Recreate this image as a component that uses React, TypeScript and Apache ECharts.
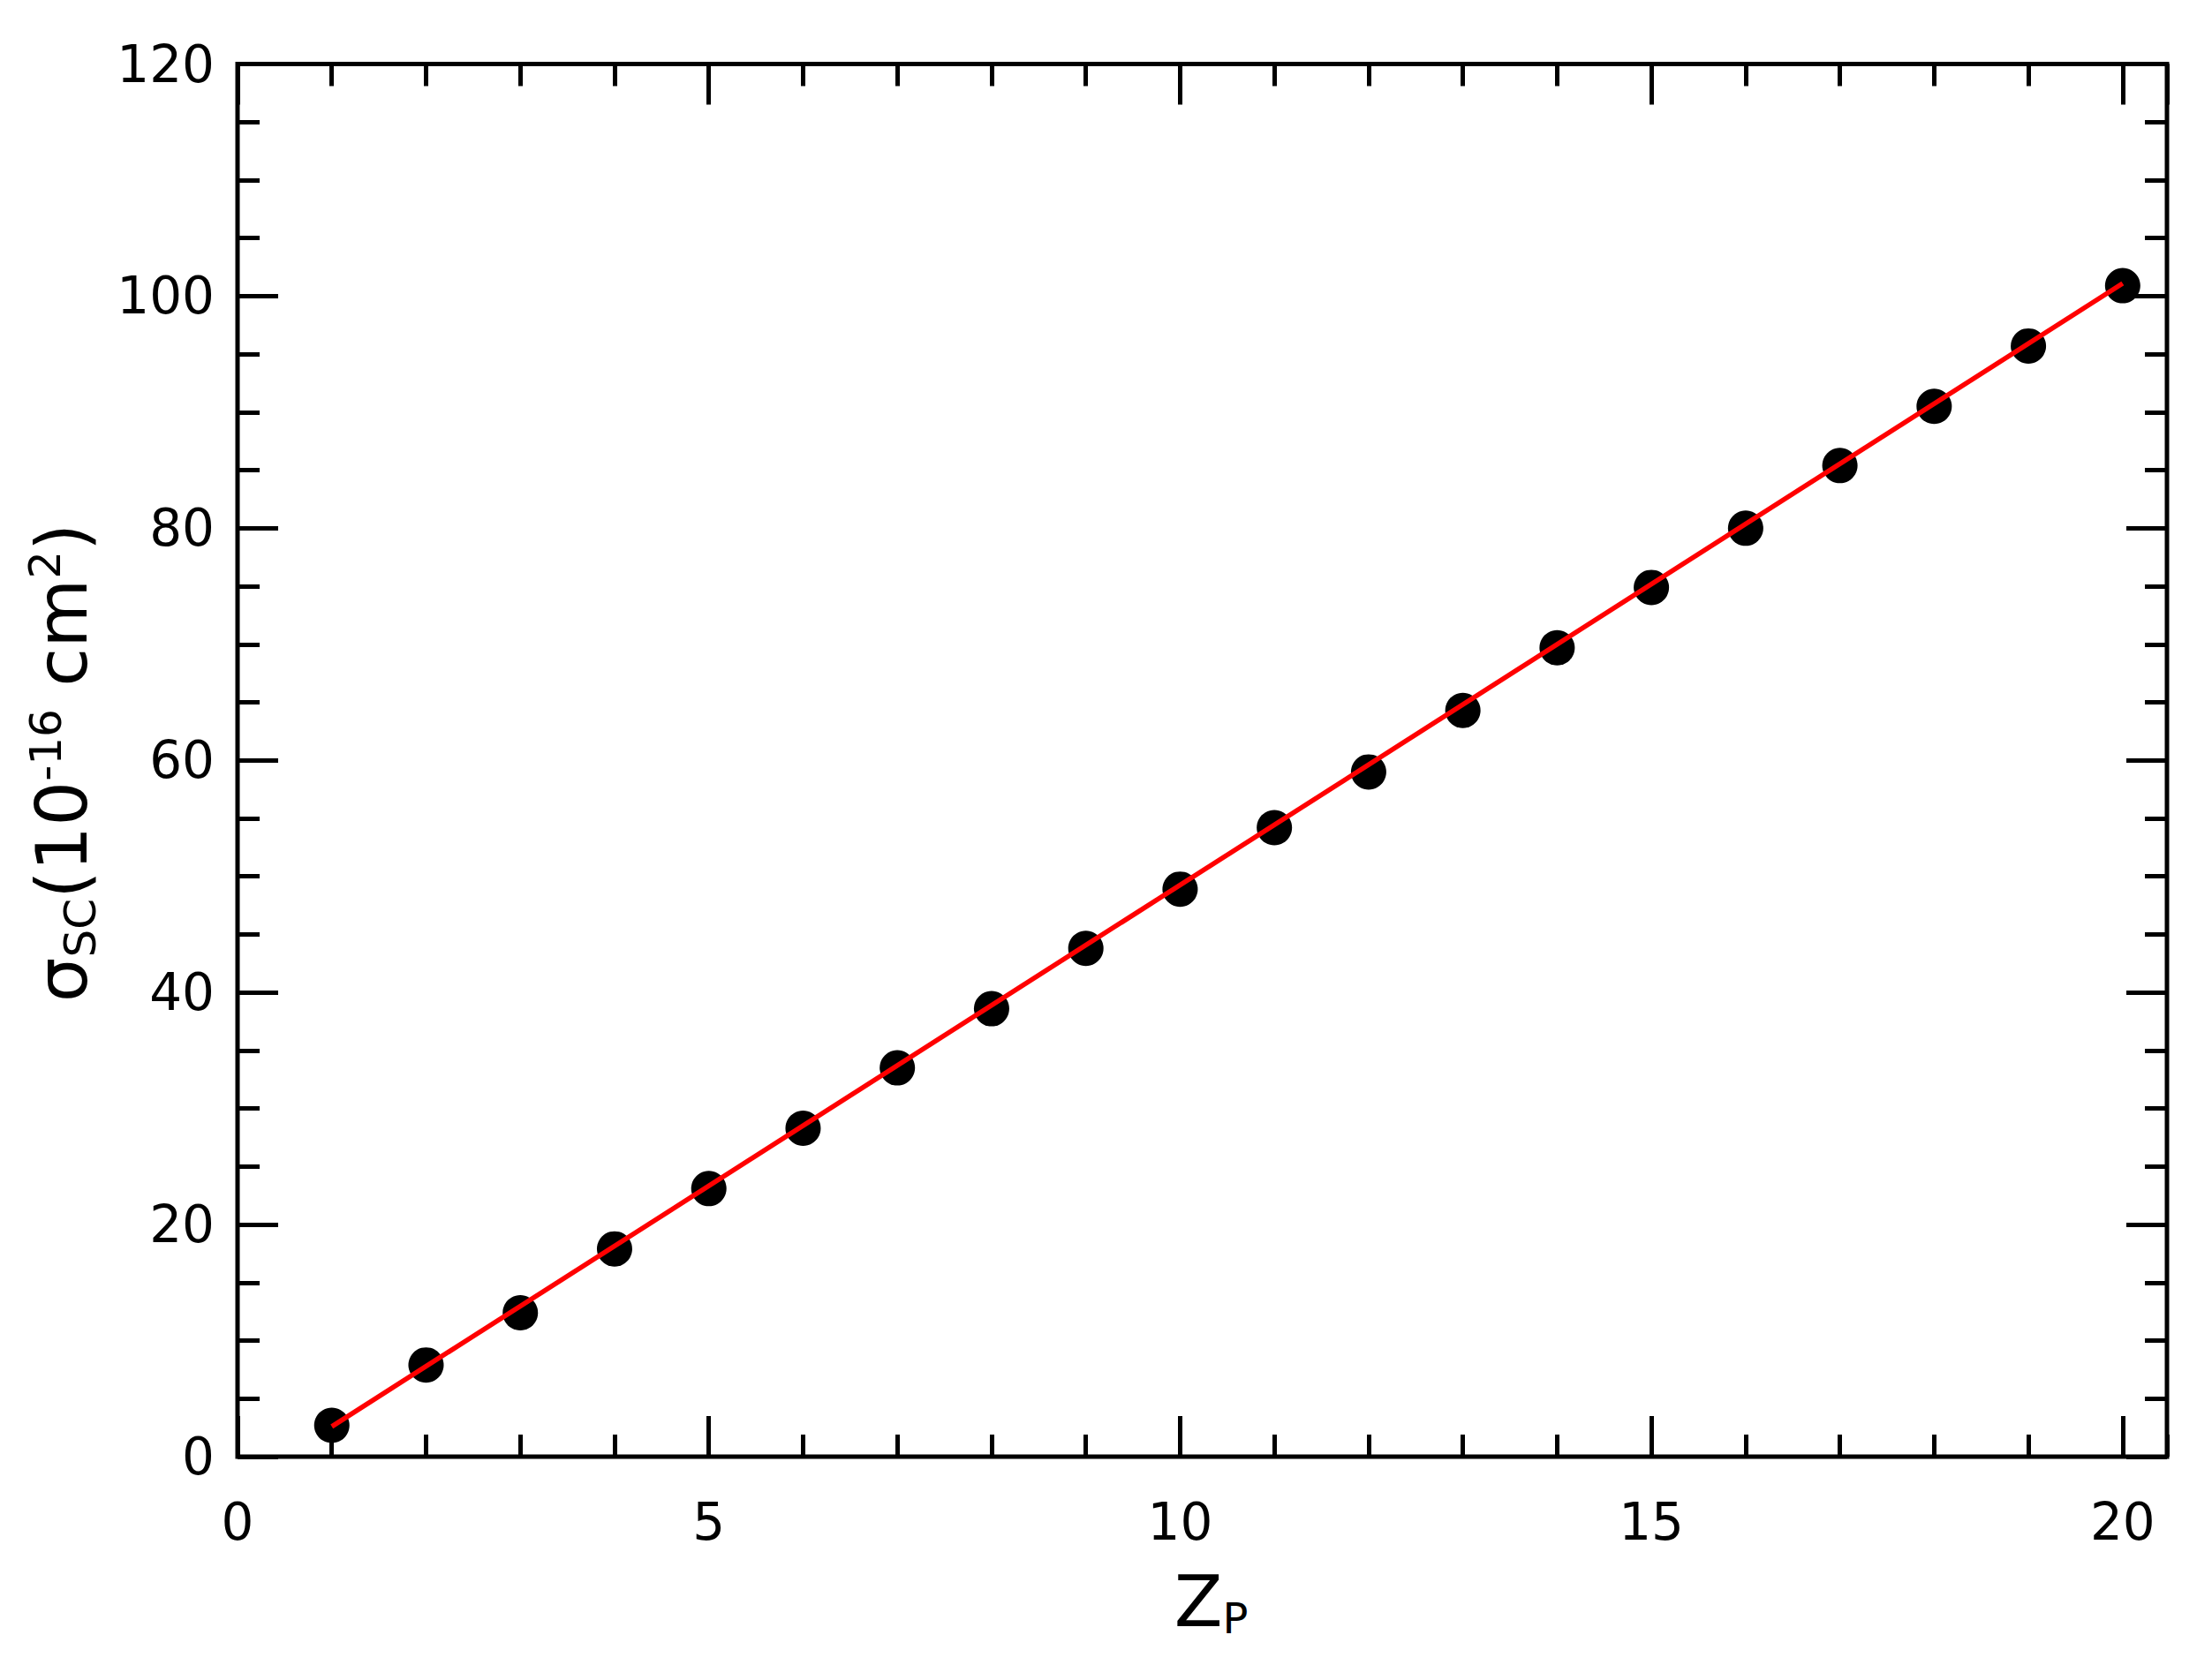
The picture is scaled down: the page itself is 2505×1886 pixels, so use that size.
import React, { useEffect, useRef } from "react";
import * as echarts from "echarts";

// ---- data ----
const zp = [1, 2, 3, 4, 5, 6, 7, 8, 9, 10, 11, 12, 13, 14, 15, 16, 17, 18, 19, 20];
const sigmaSC = [2.7, 7.9, 12.4, 17.9, 23.1, 28.3, 33.5, 38.6, 43.8, 48.9, 54.2, 59.0, 64.3, 69.7, 74.9, 80.0, 85.4, 90.5, 95.7, 100.9];
const fitX = [1, 20];
const fitY = [2.6, 101.1];

const xMin = 0;
const xMax = 20.47;
const xMajor = 5;
const xMinor = 1;
const yMin = 0;
const yMax = 120;
const yMajor = 20;
const yMinor = 5;

const FONT = '"DejaVu Sans", sans-serif';

type Seg = { t: string; size: number; shift: number };

const xTitle: Seg[] = [
  { t: "Z", size: 80, shift: 0 },
  { t: "P", size: 48, shift: 8 },
];
const yTitle: Seg[] = [
  { t: "σ", size: 80, shift: 0 },
  { t: "SC", size: 50, shift: 10 },
  { t: "(10", size: 80, shift: 0 },
  { t: "-16", size: 50, shift: -29 },
  { t: " cm", size: 80, shift: 0 },
  { t: "2", size: 50, shift: -30 },
  { t: ")", size: 80, shift: 0 },
];

function buildSegs(segs: Seg[]) {
  const ctx = document.createElement("canvas").getContext("2d")!;
  let x = 0;
  const children: any[] = [];
  for (const s of segs) {
    ctx.font = `${s.size}px "DejaVu Sans"`;
    const w = ctx.measureText(s.t).width;
    children.push({
      type: "text",
      x,
      y: s.shift - 0.346 * s.size,
      style: {
        text: s.t,
        fontSize: s.size,
        fontFamily: FONT,
        fill: "#000",
        align: "left",
        verticalAlign: "middle",
      },
    });
    x += w;
  }
  return { children, width: x };
}

export default function App() {
  const ref = useRef<HTMLDivElement>(null);
  useEffect(() => {
    document.body.style.margin = "0";
    if (!ref.current) return;
    const chart = echarts.init(ref.current, undefined, { renderer: "svg" });

    const tickStyle = { color: "#000", width: 5 };
    const xAxis = (pos: string, interval: number, len: number, labels: boolean) => ({
      type: "value",
      position: pos,
      min: xMin,
      max: xMax,
      interval,
      axisLine: { show: false, onZero: false },
      splitLine: { show: false },
      axisTick: { show: true, inside: true, length: len, lineStyle: tickStyle },
      axisLabel: {
        show: labels,
        margin: 45,
        fontSize: 58,
        fontFamily: FONT,
        color: "#000",
        showMaxLabel: false,
        formatter: (v: number) => (v % xMajor === 0 ? String(v) : ""),
      },
    });
    const yAxis = (pos: string, interval: number, len: number, labels: boolean) => ({
      type: "value",
      position: pos,
      min: yMin,
      max: yMax,
      interval,
      axisLine: { show: false, onZero: false },
      splitLine: { show: false },
      axisTick: { show: true, inside: true, length: len, lineStyle: tickStyle },
      axisLabel: {
        show: labels,
        margin: 26,
        fontSize: 58,
        fontFamily: FONT,
        color: "#000",
      },
    });

    const xt = buildSegs(xTitle);
    const yt = buildSegs(yTitle);

    chart.setOption({
      animation: false,
      backgroundColor: "#fff",
      grid: {
        left: 269,
        top: 72.5,
        width: 2185,
        height: 1577.5,
        show: true,
        borderColor: "#000",
        borderWidth: 5,
        backgroundColor: "transparent",
        containLabel: false,
        outerBoundsMode: "none",
      },
      xAxis: [
        xAxis("bottom", xMajor, 46, true),
        xAxis("bottom", xMinor, 25, false),
        xAxis("top", xMajor, 46, false),
        xAxis("top", xMinor, 25, false),
      ],
      yAxis: [
        yAxis("left", yMajor, 46, true),
        yAxis("left", yMinor, 25, false),
        yAxis("right", yMajor, 46, false),
        yAxis("right", yMinor, 25, false),
      ],
      series: [
        {
          type: "scatter",
          xAxisIndex: 0,
          yAxisIndex: 0,
          data: zp.map((z, i) => [z, sigmaSC[i]]),
          symbol: "circle",
          symbolSize: 40,
          itemStyle: { color: "#000", opacity: 1 },
          z: 2,
          silent: true,
        },
        {
          type: "line",
          xAxisIndex: 0,
          yAxisIndex: 0,
          data: fitX.map((x, i) => [x, fitY[i]]),
          symbol: "none",
          lineStyle: { color: "#ff0000", width: 5.5 },
          z: 3,
          silent: true,
        },
      ],
      graphic: [
        {
          type: "group",
          x: 1371.5 - xt.width / 2,
          y: 1842,
          children: xt.children,
        },
        {
          type: "group",
          x: 98,
          y: 864 + yt.width / 2,
          rotation: Math.PI / 2,
          children: yt.children,
        },
      ],
    });
    return () => chart.dispose();
  }, []);
  return <div ref={ref} style={{ width: 2505, height: 1886 }} />;
}
